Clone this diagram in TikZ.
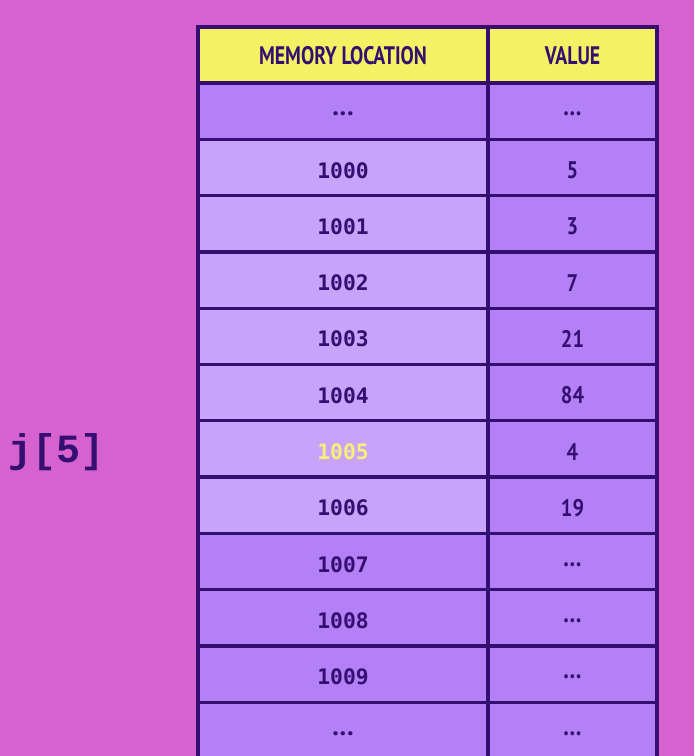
\documentclass[tikz,border=0pt]{standalone}
\usepackage{fontspec}
\newfontfamily\cellfont{DejaVu Sans Mono}
\newfontfamily\headfont{PT Sans}
\newfontfamily\indexfont{Liberation Mono}

\definecolor{bgpink}{RGB}{214,98,208}
\definecolor{gridpurple}{RGB}{52,14,112}
\definecolor{headyellow}{RGB}{244,241,100}
\definecolor{cellpurple}{RGB}{180,128,246}
\definecolor{celllight}{RGB}{201,162,250}
\definecolor{hiyellow}{RGB}{246,240,120}

\tikzset{every picture/.style={line width=0.75pt}}
\tikzset{
  cell/.style={draw=gridpurple, line width=2.5},
  headtext/.style={font=\headfont\bfseries\fontsize{19}{19}\selectfont, text=gridpurple, xscale=0.78},
  loctext/.style={font=\cellfont\bfseries\fontsize{16}{16}\selectfont},
  valtext/.style={font=\headfont\bfseries\fontsize{18}{18}\selectfont, text=gridpurple, xscale=0.85}
}
\newcommand{\cellgap}{{\headfont\bfseries\fontsize{20}{20}\selectfont .\kern0.6pt.\kern0.6pt.}}

\begin{document}
\begin{tikzpicture}[x=0.75pt,y=0.75pt,yscale=-1,xscale=1]
	\useasboundingbox (0,0) rectangle (694,756);
	\clip (0,0) rectangle (694,756);
	%Shape: Rectangle (background)
	\fill [bgpink] (0,0) rectangle (694,756);

	%Shape: Rectangle (header cells)
	\draw [cell, fill=headyellow] (198,27) rectangle (488,83);
	\draw [cell, fill=headyellow] (488,27) rectangle (657,83);

	%Rows of the table
	\foreach \loc/\val/\lfill/\ltext [count=\i from 0] in {{\cellgap}/{\cellgap}/cellpurple/gridpurple, 1000/5/celllight/gridpurple, 1001/3/celllight/gridpurple, 1002/7/celllight/gridpurple, 1003/21/celllight/gridpurple, 1004/84/celllight/gridpurple, 1005/4/celllight/hiyellow, 1006/19/celllight/gridpurple, 1007/{\cellgap}/cellpurple/gridpurple, 1008/{\cellgap}/cellpurple/gridpurple, 1009/{\cellgap}/cellpurple/gridpurple, {\cellgap}/{\cellgap}/cellpurple/gridpurple}
	{
		\draw [cell, fill=\lfill] (198,83+56.3*\i) rectangle (488,139.3+56.3*\i);
		\draw [cell, fill=cellpurple] (488,83+56.3*\i) rectangle (657,139.3+56.3*\i);
		% Text Node
		\node [loctext, text=\ltext] (loc\i) at (343,114+56.3*\i) {\loc};
		% Text Node
		\node [valtext] (val\i) at (572.5,114+56.3*\i) {\val};
	}

	% Text Node
	\node [headtext] (headloc) at (343,56) {MEMORY LOCATION};
	% Text Node
	\node [headtext] (headval) at (572.5,56) {VALUE};
	% Text Node
	\node [font=\indexfont\bfseries\fontsize{30}{30}\selectfont, text=gridpurple] (index) at (57,452) {j[5]};
\end{tikzpicture}
\end{document}
